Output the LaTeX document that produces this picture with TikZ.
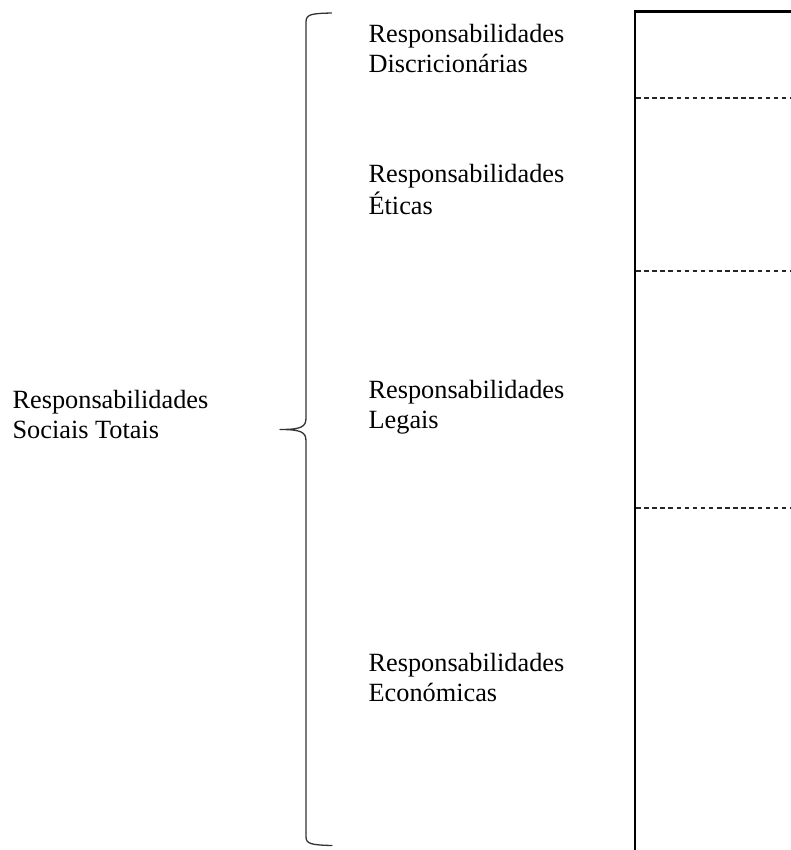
\documentclass[tikz,border=0pt]{standalone}
\usepackage{fontspec}
\setmainfont{Liberation Serif}
\begin{document}
\begin{tikzpicture}[x=1pt,y=-1pt,
  label/.style={anchor=base west,inner sep=0pt,outer sep=0pt,
    font=\fontsize{26.3}{30}\selectfont},
  bracepath/.style={draw=black!80,line width=1.3pt,line cap=round,line join=round},
  frame/.style={draw=black,line width=2.2pt},
  divider/.style={draw=black!85,line width=1.1pt,dash pattern=on 4.5pt off 3.6pt}]
\useasboundingbox (0,0) rectangle (791,850);
\clip (0,0) rectangle (791,850);
\fill[white] (0,0) rectangle (791,850);

% overall label
\node[label] (total) at (12.6,408)
  {\begin{tabular}[t]{@{}l@{}}Responsabilidades\\Sociais Totais\end{tabular}};

% curly brace
\draw[bracepath] (331.5,13) .. controls (312,13.5) and (306,14) .. (306,22)
  -- (306,418) .. controls (306,427) and (301,429.5) .. (280,429.5)
  .. controls (301,429.5) and (306,432) .. (306,441)
  -- (306,837) .. controls (306,844) and (312,845) .. (332,845.5);

% layer labels
\node[label] (disc) at (368.6,43)
  {\begin{tabular}[t]{@{}l@{}}Responsabilidades\\Discricionárias\end{tabular}};
\node[label] (etic) at (368.6,183)
  {\begin{tabular}[t]{@{}l@{}}Responsabilidades\\Éticas\end{tabular}};
\node[label] (leg) at (368.6,398)
  {\begin{tabular}[t]{@{}l@{}}Responsabilidades\\Legais\end{tabular}};
\node[label] (eco) at (368.6,671)
  {\begin{tabular}[t]{@{}l@{}}Responsabilidades\\Económicas\end{tabular}};

% layered column
\draw[frame] (635,870) -- (635,11.5) -- (810,11.5);
\draw[divider] (636,98) -- (800,98);
\draw[divider] (636,271) -- (800,271);
\draw[divider] (636,508) -- (800,508);
\end{tikzpicture}
\end{document}
